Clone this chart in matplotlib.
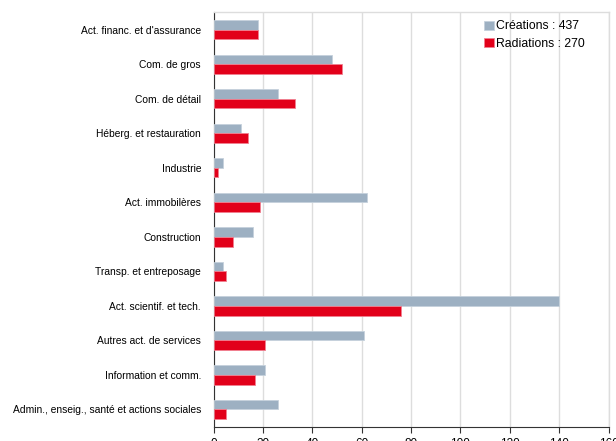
import numpy as np
import matplotlib
matplotlib.use("Agg")
import matplotlib.pyplot as plt

plt.rcParams['font.family'] = ['Liberation Sans', 'DejaVu Sans']

categories = ["Act. financ. et d'assurance", "Com. de gros", "Com. de détail",
              "Héberg. et restauration", "Industrie", "Act. immobilères",
              "Construction", "Transp. et entreposage", "Act. scientif. et tech.",
              "Autres act. de services", "Information et comm.",
              "Admin., enseig., santé et actions sociales"]
creations = [18, 48, 26, 11, 4, 62, 16, 4, 140, 61, 21, 26]
radiations = [18, 52, 33, 14, 2, 19, 8, 5, 76, 21, 17, 5]
xticks = [0, 20, 40, 60, 80, 100, 120, 140, 160]

gray = '#9db0c2'
red = '#e2001a'

fig = plt.figure(figsize=(6.16, 4.41), dpi=100)
ax = fig.add_axes([0.3466, 0.0324, 0.6414, 0.9393])

y = np.arange(len(categories))
h = 0.28
ax.barh(y - h / 2, creations, height=h, color=gray, edgecolor='#c5d1dc', linewidth=0.6,
        label=f'Créations : {sum(creations)}', zorder=3)
ax.barh(y + h / 2, radiations, height=h, color=red, edgecolor='#f08090', linewidth=0.6,
        label=f'Radiations : {sum(radiations)}', zorder=3)

ax.set_ylim(len(categories) - 0.5, -0.5)
ax.set_xlim(0, 160)
ax.set_yticks(y)
ax.set_yticklabels(categories, fontsize=7.4)
ax.tick_params(axis='y', length=0, pad=9)
ax.set_xticks(xticks)
ax.set_xticklabels([str(t) for t in xticks], fontsize=8.5)
ax.tick_params(axis='x', length=4, width=0.8, color='#333333', pad=4)

ax.grid(axis='x', color='#dddddd', linewidth=1, zorder=0)
for s in ['top', 'right']:
    ax.spines[s].set_color('#dddddd')
    ax.spines[s].set_linewidth(1)
for s in ['left', 'bottom']:
    ax.spines[s].set_color('#333333')
    ax.spines[s].set_linewidth(0.8)

ax.legend(loc='upper right', bbox_to_anchor=(0.96, 1.0), frameon=False, fontsize=8.8,
          handlelength=0.75, handleheight=0.75, handletextpad=0.2, labelspacing=0.45,
          borderaxespad=0.25)

fig.savefig('out.png', dpi=100)
